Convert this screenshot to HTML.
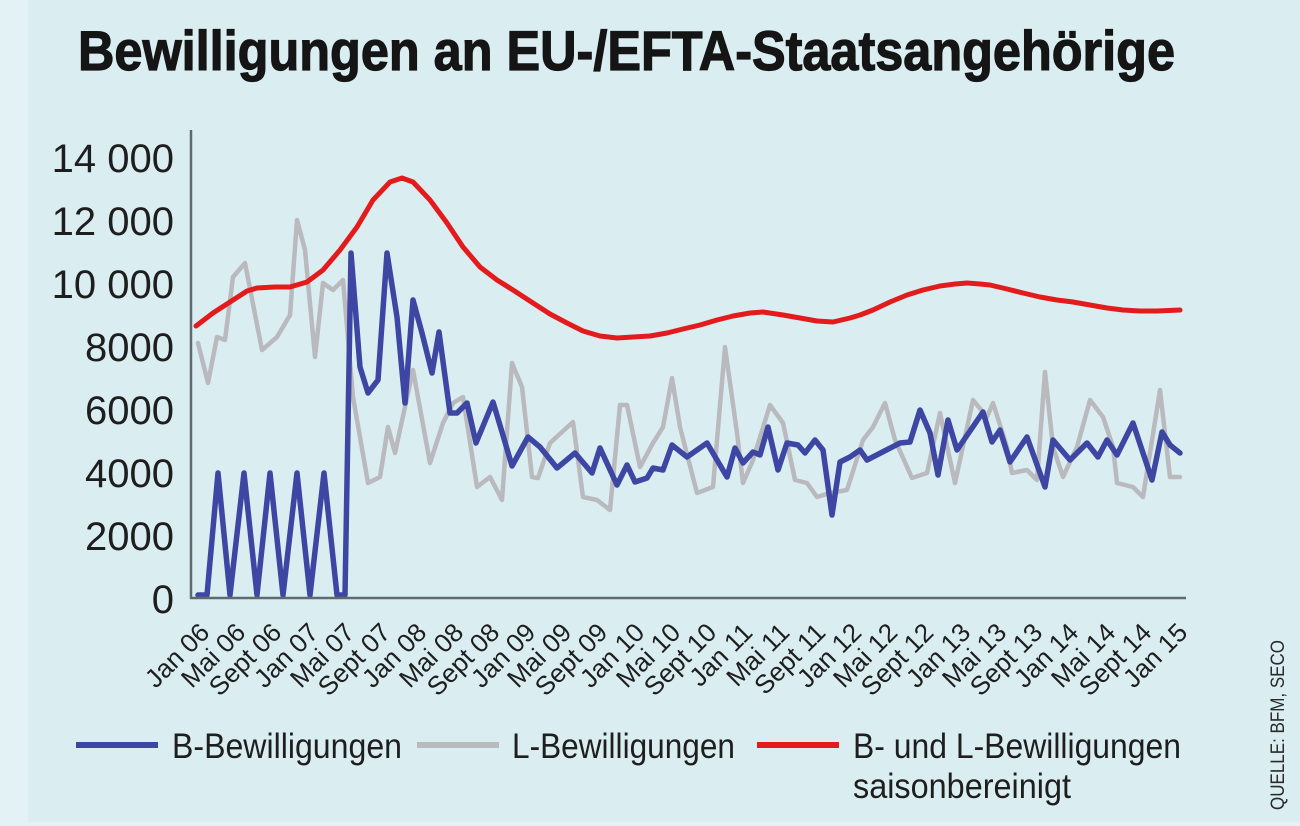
<!DOCTYPE html>
<html>
<head>
<meta charset="utf-8">
<style>
  html,body{margin:0;padding:0;background:#daeef2;}
  svg{display:block;}
</style>
</head>
<body>
<svg width="1300" height="826" viewBox="0 0 1300 826" xmlns="http://www.w3.org/2000/svg">
  <rect x="0" y="0" width="1300" height="826" fill="#daeef2"/>
  <rect x="0" y="0" width="28" height="826" fill="#e2f2f5"/>
  <rect x="0" y="822" width="1300" height="4" fill="#e2f2f5"/>

  <!-- Title -->
  <text x="78" y="70" font-family="'Liberation Sans', sans-serif" font-weight="bold" font-size="56" fill="#151515" stroke="#151515" stroke-width="1.2" textLength="1097" lengthAdjust="spacingAndGlyphs">Bewilligungen an EU-/EFTA-Staatsangehörige</text>

  <!-- Y tick labels -->
  <g font-family="'Liberation Sans', sans-serif" font-size="40" fill="#1e1e1e" text-anchor="end">
    <text x="174" y="172">14 000</text>
    <text x="174" y="235">12 000</text>
    <text x="174" y="298">10 000</text>
    <text x="174" y="361">8000</text>
    <text x="174" y="424">6000</text>
    <text x="174" y="487">4000</text>
    <text x="174" y="550">2000</text>
    <text x="174" y="613">0</text>
  </g>

  <!-- Series: gray (L) -->
  <polyline fill="none" stroke="#b9b9be" stroke-width="4.5" stroke-linejoin="round" stroke-linecap="round"
    points="198,343 208,383 217,337 225,340 233,277 245,263 262,350 277,337 290,315 297,220 305,250 315,357 323,283 333,290 343,280 353,397 368,483 380,477 388,427 395,453 413,370 430,463 443,423 453,403 463,397 477,487 490,477 502,500 512,363 522,387 532,477 538,478 550,443 573,422 583,497 597,500 610,510 620,405 627,405 640,467 653,443 663,427 672,378 680,427 697,493 713,487 725,347 737,433 743,483 753,460 770,405 783,423 795,480 807,483 817,497 830,493 847,490 863,440 873,427 885,403 895,440 912,478 927,473 940,413 955,483 973,400 987,417 993,403 1007,447 1012,473 1027,470 1037,480 1045,372 1053,447 1063,477 1077,447 1090,400 1103,417 1113,447 1117,483 1133,487 1143,497 1160,390 1170,477 1180,477"/>

  <!-- Series: red (saisonbereinigt) -->
  <polyline fill="none" stroke="#e41b1d" stroke-width="5" stroke-linejoin="round" stroke-linecap="round"
    points="196,326 213,313 230,302 247,291 257,288 275,287 290,287 307,282 323,270 340,250 357,227 373,200 390,182 402,178 413,182 430,200 447,223 463,247 480,267 497,280 513,290 533,303 550,314 567,323 583,331 600,336 617,338 633,337 650,336 667,333 683,329 700,325 717,320 733,316 750,313 763,312 783,315 800,318 817,321 833,322 850,318 860,315 873,310 890,302 907,295 923,290 940,286 955,284 967,283 980,284 990,285 1007,289 1023,293 1040,297 1057,300 1073,302 1090,305 1107,308 1123,310 1140,311 1157,311 1180,310"/>

  <!-- Series: blue (B) -->
  <polyline fill="none" stroke="#3d47a3" stroke-width="5.5" stroke-linejoin="round" stroke-linecap="round"
    points="198,595 207,595 218,473 230,595 244,473 257,595 270,473 283,595 297,473 310,595 324,473 337,595 345,595 351,253 360,367 368,393 378,380 387,253 397,317 405,403 413,300 422,333 432,373 439,332 450,413 457,413 467,403 476,443 493,402 502,432 512,466 528,437 540,447 557,468 575,453 592,473 600,448 617,485 627,465 635,482 647,478 653,468 663,470 672,445 687,457 707,443 727,477 735,448 743,463 753,452 760,455 768,427 778,470 787,443 798,445 805,453 815,440 823,450 832,515 840,462 850,457 860,450 867,460 900,443 910,442 920,410 930,433 938,475 948,420 957,450 983,412 992,442 1000,430 1010,462 1027,437 1045,487 1053,440 1070,460 1087,443 1098,457 1107,440 1117,455 1133,423 1152,480 1162,432 1170,445 1180,453"/>

  <!-- Axes -->
  <line x1="191" y1="130" x2="191" y2="599" stroke="#5f6a70" stroke-width="2.5"/>
  <line x1="190" y1="598" x2="1186" y2="598" stroke="#5f6a70" stroke-width="2.5"/>

  <!-- X tick labels -->
  <g font-family="'Liberation Sans', sans-serif" font-size="26" fill="#1e1e1e" text-anchor="end">
    <text transform="translate(211,634) rotate(-45)">Jan 06</text>
    <text transform="translate(247,634) rotate(-45)">Mai 06</text>
    <text transform="translate(283,634) rotate(-45)">Sept 06</text>
    <text transform="translate(320,634) rotate(-45)">Jan 07</text>
    <text transform="translate(356,634) rotate(-45)">Mai 07</text>
    <text transform="translate(392,634) rotate(-45)">Sept 07</text>
    <text transform="translate(428,634) rotate(-45)">Jan 08</text>
    <text transform="translate(465,634) rotate(-45)">Mai 08</text>
    <text transform="translate(501,634) rotate(-45)">Sept 08</text>
    <text transform="translate(537,634) rotate(-45)">Jan 09</text>
    <text transform="translate(573,634) rotate(-45)">Mai 09</text>
    <text transform="translate(609,634) rotate(-45)">Sept 09</text>
    <text transform="translate(646,634) rotate(-45)">Jan 10</text>
    <text transform="translate(682,634) rotate(-45)">Mai 10</text>
    <text transform="translate(718,634) rotate(-45)">Sept 10</text>
    <text transform="translate(754,634) rotate(-45)">Jan 11</text>
    <text transform="translate(791,634) rotate(-45)">Mai 11</text>
    <text transform="translate(827,634) rotate(-45)">Sept 11</text>
    <text transform="translate(863,634) rotate(-45)">Jan 12</text>
    <text transform="translate(899,634) rotate(-45)">Mai 12</text>
    <text transform="translate(935,634) rotate(-45)">Sept 12</text>
    <text transform="translate(972,634) rotate(-45)">Jan 13</text>
    <text transform="translate(1008,634) rotate(-45)">Mai 13</text>
    <text transform="translate(1044,634) rotate(-45)">Sept 13</text>
    <text transform="translate(1080,634) rotate(-45)">Jan 14</text>
    <text transform="translate(1117,634) rotate(-45)">Mai 14</text>
    <text transform="translate(1153,634) rotate(-45)">Sept 14</text>
    <text transform="translate(1189,634) rotate(-45)">Jan 15</text>
  </g>

  <!-- Legend -->
  <line x1="76" y1="745" x2="158" y2="745" stroke="#3d47a3" stroke-width="6"/>
  <line x1="417" y1="745" x2="499" y2="745" stroke="#b9b9be" stroke-width="6"/>
  <line x1="757" y1="745" x2="839" y2="745" stroke="#e41b1d" stroke-width="6"/>
  <g font-family="'Liberation Sans', sans-serif" font-size="35" fill="#1e1e1e">
    <text x="172" y="758" textLength="230" lengthAdjust="spacingAndGlyphs">B-Bewilligungen</text>
    <text x="512" y="758" textLength="223" lengthAdjust="spacingAndGlyphs">L-Bewilligungen</text>
    <text x="853" y="758" textLength="328" lengthAdjust="spacingAndGlyphs">B- und L-Bewilligungen</text>
    <text x="853" y="798" textLength="218" lengthAdjust="spacingAndGlyphs">saisonbereinigt</text>
  </g>

  <!-- Source -->
  <text transform="translate(1284,810) rotate(-90)" font-family="'Liberation Sans', sans-serif" font-size="19" fill="#2a2a2a" textLength="170" lengthAdjust="spacingAndGlyphs">QUELLE: BFM, SECO</text>
</svg>
</body>
</html>
